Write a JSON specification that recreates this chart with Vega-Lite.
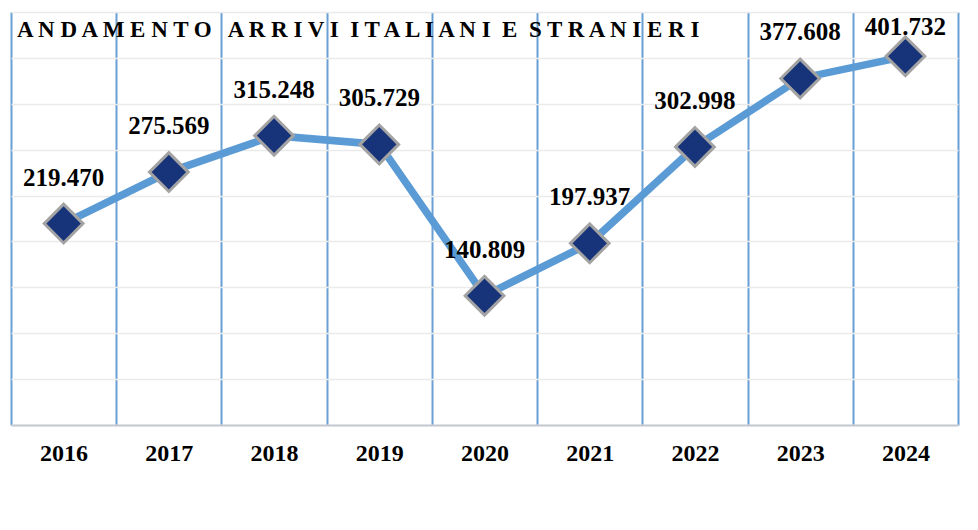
{
  "$schema": "https://vega.github.io/schema/vega-lite/v6.json",
  "autosize": "none",
  "width": 947,
  "height": 413,
  "padding": {"left": 11, "top": 12, "right": 20, "bottom": 105},
  "background": "white",
  "config": {
    "view": {"stroke": null},
    "locale": {"number": {"decimal": ",", "thousands": ".", "grouping": [3], "currency": ["€", ""]}}
  },
  "title": {
    "text": "A N D A M E N T O\u00a0\u00a0 A R R I V I\u00a0 I T A L I A N I\u00a0 E\u00a0 S T R A N I E R I",
    "anchor": "start",
    "frame": "group",
    "font": "Liberation Serif",
    "fontSize": 23,
    "fontWeight": "bold",
    "color": "black",
    "baseline": "alphabetic",
    "offset": -25,
    "dx": 6,
    "dy": 23
  },
  "data": {
    "values": [
      {"year": "2016", "arrivi": 219470},
      {"year": "2017", "arrivi": 275569},
      {"year": "2018", "arrivi": 315248},
      {"year": "2019", "arrivi": 305729},
      {"year": "2020", "arrivi": 140809},
      {"year": "2021", "arrivi": 197937},
      {"year": "2022", "arrivi": 302998},
      {"year": "2023", "arrivi": 377608},
      {"year": "2024", "arrivi": 401732}
    ]
  },
  "encoding": {
    "x": {
      "field": "year",
      "type": "ordinal",
      "scale": {"type": "band", "paddingInner": 0, "paddingOuter": 0},
      "axis": {
        "title": null,
        "labelAngle": 0,
        "tickBand": "extent",
        "ticks": false,
        "grid": true,
        "gridColor": "#6a9fd6",
        "gridWidth": 2,
        "gridOpacity": 1,
        "domain": true,
        "domainColor": "#c4c8d0",
        "domainWidth": 2,
        "labelFont": "Liberation Serif",
        "labelFontSize": 24,
        "labelFontWeight": "bold",
        "labelColor": "black",
        "labelPadding": 16
      }
    },
    "y": {
      "field": "arrivi",
      "type": "quantitative",
      "scale": {"domain": [0, 450000], "nice": false, "zero": true},
      "axis": {
        "title": null,
        "labels": false,
        "ticks": false,
        "domain": false,
        "grid": true,
        "gridColor": "#ebebeb",
        "gridWidth": 1.5,
        "values": [0, 50000, 100000, 150000, 200000, 250000, 300000, 350000, 400000, 450000]
      }
    }
  },
  "layer": [
    {
      "mark": {"type": "line", "color": "#5b9bd5", "strokeWidth": 7.5}
    },
    {
      "mark": {
        "type": "point",
        "shape": "diamond",
        "filled": true,
        "size": 1500,
        "fill": "#17347a",
        "stroke": "#a3a3a3",
        "strokeWidth": 3,
        "opacity": 1
      }
    },
    {
      "transform": [{"filter": "datum.year != '2024'"}],
      "mark": {
        "type": "text",
        "font": "Liberation Serif",
        "fontSize": 25,
        "fontWeight": "bold",
        "color": "black",
        "baseline": "alphabetic",
        "dy": -38
      },
      "encoding": {"text": {"field": "arrivi", "type": "quantitative", "format": ",d"}}
    },
    {
      "transform": [{"filter": "datum.year == '2024'"}],
      "mark": {
        "type": "text",
        "font": "Liberation Serif",
        "fontSize": 25,
        "fontWeight": "bold",
        "color": "black",
        "baseline": "alphabetic",
        "dy": -21
      },
      "encoding": {"text": {"field": "arrivi", "type": "quantitative", "format": ",d"}}
    }
  ]
}
